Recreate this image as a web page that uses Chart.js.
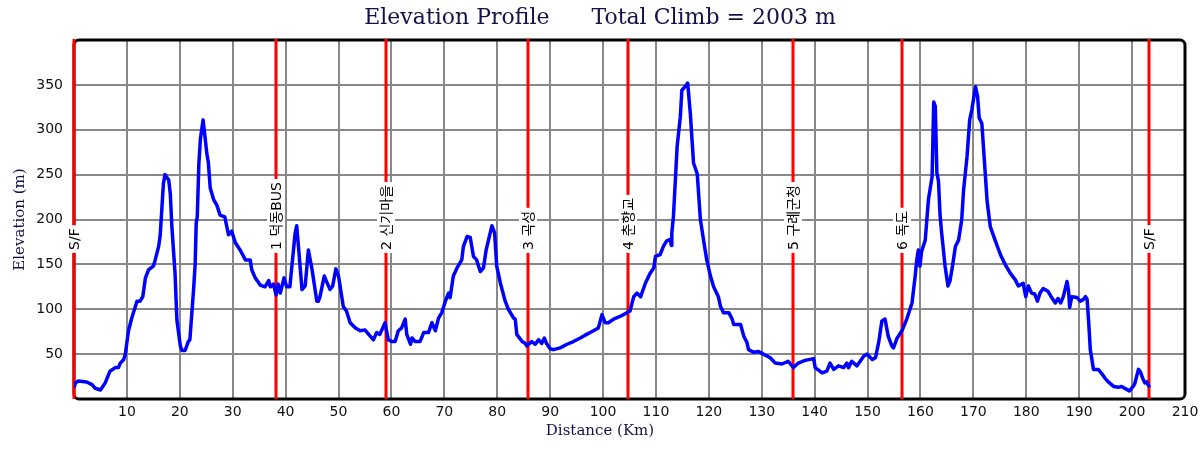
<!DOCTYPE html>
<html>
<head>
<meta charset="utf-8">
<title>Elevation Profile</title>
<script src="https://cdn.jsdelivr.net/npm/chart.js@4.4.1/dist/chart.umd.min.js"></script>
<style>
    html, body { margin: 0; padding: 0; background: #ffffff; }
    #wrap { width: 1200px; height: 450px; }
</style>
</head>
<body>
<div id="wrap"><canvas id="elevChart" width="1200" height="450"></canvas></div>
<script>
// distance along the route (km) and elevation (m)
const distKm = [
    0.0, 0.3, 0.8, 2.4, 3.4, 4.0, 5.0, 5.9, 6.8, 7.8, 8.4, 8.75, 9.4, 9.7, 10.3, 10.9, 11.6, 11.9, 12.5, 13.0,
    13.5, 14.1, 15.0, 15.35, 16.0, 16.3, 16.9, 17.2, 17.9, 18.2, 18.5, 19.1, 19.45, 20.1, 20.4, 21.0, 21.6, 21.9, 22.6, 22.9,
    23.1, 23.3, 23.6, 23.9, 24.4, 24.8, 25.1, 25.4, 25.75, 26.4, 27.0, 27.6, 28.5, 29.2, 29.8, 30.5, 31.4, 32.4, 33.3, 33.6,
    34.25, 35.2, 36.1, 36.8, 37.1, 37.7, 38.2, 38.6, 39.0, 39.7, 40.2, 40.8, 41.8, 42.1, 43.1, 43.7, 44.3, 45.0, 45.9, 46.2,
    46.5, 47.3, 47.8, 48.4, 48.9, 49.5, 50.0, 50.9, 51.5, 52.2, 53.2, 54.1, 55.0, 55.7, 56.6, 57.2, 57.8, 58.8, 59.4, 60.1,
    60.7, 61.3, 61.9, 62.6, 62.9, 63.6, 63.9, 64.5, 65.4, 66.1, 67.0, 67.65, 68.3, 68.9, 69.5, 70.2, 70.8, 71.1, 71.7, 72.4,
    73.3, 73.6, 74.3, 74.9, 75.5, 76.1, 76.8, 77.4, 77.9, 78.3, 79.0, 79.5, 79.9, 80.6, 81.5, 82.1, 83.1, 83.4, 83.7, 84.7,
    85.3, 85.6, 86.5, 87.2, 87.8, 88.4, 88.9, 89.3, 90.0, 90.6, 91.9, 93.2, 94.4, 95.7, 96.9, 98.2, 99.1, 99.8, 100.4, 101.0,
    102.0, 103.2, 104.5, 105.1, 105.8, 106.4, 107.1, 108.0, 108.9, 109.6, 109.9, 110.8, 111.4, 112.0, 112.7, 112.9, 113.0, 113.3, 114.0, 114.6,
    114.9, 115.5, 116.0, 116.5, 117.1, 117.8, 118.4, 119.0, 119.6, 120.3, 120.9, 121.8, 122.2, 122.8, 123.8, 124.4, 124.7, 126.0, 126.6, 127.2,
    127.5, 128.5, 129.4, 130.3, 131.6, 132.55, 133.8, 135.0, 136.0, 136.9, 138.2, 139.8, 140.1, 141.4, 142.3, 142.9, 143.6, 144.5, 145.5, 146.1,
    146.4, 147.0, 148.0, 149.3, 149.9, 150.9, 151.5, 152.1, 152.7, 153.3, 153.9, 154.6, 154.9, 155.6, 156.5, 157.4, 158.4, 159.0, 159.3, 159.6,
    159.9, 160.2, 160.9, 161.5, 162.2, 162.5, 162.8, 163.1, 163.4, 163.7, 164.0, 164.65, 165.2, 165.6, 166.1, 166.6, 167.2, 167.8, 168.15, 168.8,
    169.3, 169.7, 170.4, 170.8, 171.1, 171.6, 172.2, 172.6, 173.2, 174.1, 175.1, 176.0, 177.0, 177.9, 178.5, 179.4, 179.9, 180.4, 181.0, 181.6,
    182.1, 182.6, 183.2, 184.1, 184.7, 185.5, 186.0, 186.5, 187.0, 187.7, 188.0, 188.2, 188.6, 189.6, 190.2, 190.8, 191.2, 191.5, 191.8, 192.1,
    192.7, 193.6, 194.3, 194.9, 195.5, 196.5, 197.4, 198.0, 198.9, 199.5, 200.2, 200.5, 201.2, 201.6, 202.0, 202.4, 202.7, 203.3
];
const elevM = [
    13, 18, 20, 19, 16, 12, 10, 18, 31, 35, 35, 40, 44, 50, 76, 90, 103, 109, 109, 114,
    135, 144, 148, 155, 170, 183, 240, 250, 244, 229, 192, 140, 88, 59, 54, 54, 64, 66, 122, 150,
    196, 203, 262, 290, 311, 290, 274, 263, 235, 222, 216, 205, 203, 183, 187, 174, 166, 155, 155, 144,
    135, 127, 125, 132, 125, 128, 116, 128, 118, 135, 125, 125, 185, 193, 122, 126, 166, 144, 109, 109,
    114, 137, 130, 122, 126, 145, 137, 103, 98, 85, 79, 76, 77, 72, 66, 74, 72, 85, 66, 64,
    64, 76, 79, 89, 72, 61, 68, 64, 64, 74, 74, 85, 76, 90, 96, 109, 118, 113, 137, 146,
    155, 170, 181, 180, 159, 155, 142, 146, 166, 176, 193, 185, 148, 129, 109, 100, 90, 89, 72, 64,
    62, 59, 64, 61, 66, 62, 68, 62, 56, 55, 57, 61, 64, 68, 72, 76, 79, 94, 85, 85,
    89, 92, 96, 98, 114, 118, 114, 129, 140, 146, 159, 161, 170, 176, 178, 171, 185, 203, 281, 314,
    344, 348, 352, 318, 263, 251, 200, 177, 155, 137, 125, 114, 103, 96, 96, 89, 83, 83, 70, 63,
    55, 52, 53, 50, 46, 40, 39, 42, 35, 40, 43, 45, 35, 29, 31, 40, 33, 37, 35, 40,
    35, 42, 37, 48, 50, 44, 46, 63, 87, 89, 70, 59, 57, 68, 76, 89, 107, 137, 155, 166,
    148, 164, 177, 222, 248, 331, 326, 252, 243, 205, 185, 148, 126, 132, 150, 170, 177, 200, 233, 270,
    311, 322, 348, 337, 313, 307, 255, 220, 192, 177, 161, 150, 140, 133, 126, 129, 114, 126, 118, 117,
    109, 118, 123, 120, 114, 107, 112, 107, 114, 131, 120, 102, 114, 113, 109, 111, 114, 111, 85, 55,
    33, 33, 28, 23, 19, 14, 13, 14, 11, 9, 14, 17, 33, 30, 23, 18, 19, 13
];

// checkpoints along the route
const markerKm = [0, 38.2, 58.9, 85.9, 104.8, 135.9, 156.5, 203.2];
const markerNames = ['S/F', '1 덕동BUS', '2 신기마을', '3 곡성', '4 춘향교', '5 구례군청', '6 독도', 'S/F'];

const titleText = 'Elevation Profile      Total Climb = 2003 m';
const xTitle = 'Distance (Km)';
const yTitle = 'Elevation (m)';

const sansFont = '"DejaVu Sans", "Noto Sans CJK KR", sans-serif';
const serifFont = '"DejaVu Serif", "Liberation Serif", serif';
const navy = '#12124a';

const profilePlugin = {
    id: 'profileDecor',
    beforeDatasetsDraw(chart) {
        const { ctx, chartArea: area, scales } = chart;
        const xs = scales.x;

        // frame
        ctx.save();
        ctx.strokeStyle = '#000000';
        ctx.lineWidth = 3;
        ctx.beginPath();
        ctx.roundRect(area.left, area.top, area.right - area.left, area.bottom - area.top, 5);
        ctx.stroke();
        ctx.restore();

        // checkpoint lines
        ctx.save();
        ctx.strokeStyle = '#ff0000';
        ctx.lineWidth = 3;
        markerKm.forEach(km => {
            const x = Math.round(xs.getPixelForValue(km));
            ctx.beginPath();
            ctx.moveTo(x, area.top - 1);
            ctx.lineTo(x, area.bottom);
            ctx.stroke();
        });
        ctx.restore();

        // checkpoint labels, rotated, in white boxes
        const baseY = area.top + (area.bottom - area.top) * 0.593;
        ctx.save();
        ctx.font = '14px ' + sansFont;
        ctx.textBaseline = 'middle';
        ctx.textAlign = 'left';
        markerNames.forEach((name, i) => {
            const x = Math.round(xs.getPixelForValue(markerKm[i]));
            const w = ctx.measureText(name).width;
            ctx.save();
            ctx.translate(x, baseY);
            ctx.rotate(-Math.PI / 2);
            ctx.fillStyle = '#ffffff';
            ctx.fillRect(0, -9, w + 6, 18);
            ctx.fillStyle = '#000000';
            ctx.fillText(name, 3, 1);
            ctx.restore();
        });
        ctx.restore();
    },
    afterDraw(chart) {
        const { ctx, chartArea: area } = chart;
        ctx.save();
        ctx.fillStyle = navy;
        ctx.textAlign = 'center';
        ctx.textBaseline = 'middle';

        ctx.font = '22px ' + serifFont;
        ctx.fillText(titleText, 600, 18);

        ctx.font = '15px ' + serifFont;
        ctx.fillText(xTitle, 600, 431);

        ctx.translate(20, (area.top + area.bottom) / 2);
        ctx.rotate(-Math.PI / 2);
        ctx.fillText(yTitle, 0, 0);
        ctx.restore();
    }
};

const gridColor = (edges) => (c) => edges.includes(c.tick.value) ? 'rgba(0,0,0,0)' : '#888888';

const points = distKm.map((d, i) => ({ x: d, y: elevM[i] }));

new Chart(document.getElementById('elevChart').getContext('2d'), {
    type: 'line',
    data: {
        datasets: [{
            data: points,
            borderColor: '#0000ff',
            borderWidth: 3.5,
            borderJoinStyle: 'round',
            pointRadius: 0,
            tension: 0,
            fill: false
        }]
    },
    options: {
        responsive: false,
        devicePixelRatio: 1,
        animation: false,
        layout: { padding: { top: 40, right: 15, left: 0, bottom: 0 } },
        plugins: {
            legend: { display: false },
            tooltip: { enabled: false }
        },
        scales: {
            x: {
                type: 'linear',
                min: 0,
                max: 210,
                afterFit: (scale) => {
                    scale.height = 51;
                    scale.paddingLeft = 0;
                    scale.paddingRight = 0;
                },
                border: { display: false },
                grid: { color: gridColor([0, 210]), lineWidth: 2, drawTicks: false },
                ticks: {
                    stepSize: 10,
                    autoSkip: false,
                    maxRotation: 0,
                    padding: 5,
                    color: '#111111',
                    font: { family: sansFont, size: 14 },
                    callback: (v) => v === 0 ? '' : v
                }
            },
            y: {
                min: 0,
                max: 400,
                afterFit: (scale) => {
                    scale.width = 74;
                    scale.paddingTop = 0;
                    scale.paddingBottom = 0;
                },
                border: { display: false },
                grid: { color: gridColor([0, 400]), lineWidth: 2, drawTicks: false },
                ticks: {
                    stepSize: 50,
                    padding: 11,
                    color: '#111111',
                    font: { family: sansFont, size: 14 },
                    callback: (v) => (v === 0 || v === 400) ? '' : v
                }
            }
        }
    },
    plugins: [profilePlugin]
});
</script>
</body>
</html>
